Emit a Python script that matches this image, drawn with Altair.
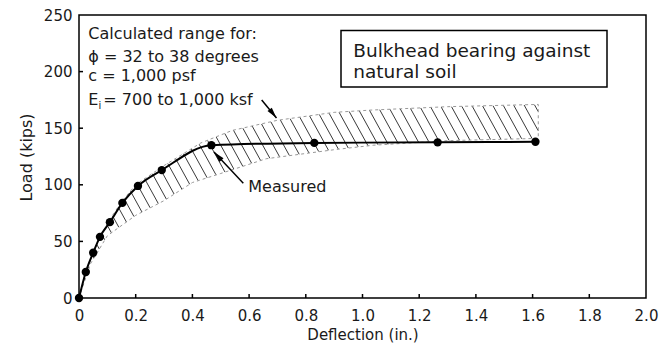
import numpy as np
import pandas as pd
import altair as alt

# Measured load-deflection response of the bulkhead
deflection = [0.0, 0.024, 0.05, 0.074, 0.109, 0.153, 0.208, 0.292, 0.467, 0.83, 1.265, 1.61]
load = [0, 23, 40, 54, 67, 84, 99, 113, 135, 137, 137.5, 138]

# Calculated range: upper and lower bounding curves
upper_defl = [0.0, 0.025, 0.05, 0.1, 0.15, 0.2, 0.3, 0.43, 0.54, 0.7, 0.9, 1.03, 1.3, 1.62]
upper_load = [0, 23, 40, 66, 85, 100, 117, 137, 148, 157, 164, 166, 169, 171]
lower_defl = [0.0, 0.04, 0.1, 0.2, 0.3, 0.4, 0.5, 0.66, 0.9, 1.04, 1.3, 1.62]
lower_load = [0, 30, 55, 73, 86, 102, 110, 123, 131, 135, 139, 141]

# Axis ticks
x_ticks = [0, 0.2, 0.4, 0.6, 0.8, 1.0, 1.2, 1.4, 1.6, 1.8, 2.0]
y_ticks = [0, 50, 100, 150, 200, 250]

W, H = 567, 283
X_MAX, Y_MAX = 2.0, 250
FONT = "DejaVu Sans"
INK = "#1a1a1a"

# Diagonal hatching of the calculated band, built in data units
kx, ky = W / X_MAX, H / Y_MAX
HATCH_STEP = 10.5   # px between hatch lines
HATCH_RUN = 0.55    # horizontal px per vertical px
x_end = upper_defl[-1]
v = np.arange(0, H, 0.25)
segs = []
for c in np.arange(HATCH_STEP / 2, x_end * kx + HATCH_RUN * H, HATCH_STEP):
    xd = (c - HATCH_RUN * v) / kx
    yd = v / ky
    inside = (
        (xd >= 0) & (xd <= x_end)
        & (yd <= np.interp(xd, upper_defl, upper_load))
        & (yd >= np.interp(xd, lower_defl, lower_load))
    )
    idx = np.flatnonzero(inside)
    if idx.size == 0:
        continue
    breaks = np.flatnonzero(np.diff(idx) > 1)
    starts = np.r_[idx[0], idx[breaks + 1]]
    ends = np.r_[idx[breaks], idx[-1]]
    for s, e in zip(starts, ends):
        if e - s < 2:
            continue
        segs.append({"deflection": float(xd[s]), "load": float(yd[s]),
                     "deflection_end": float(xd[e]), "load_end": float(yd[e])})
hatch_df = pd.DataFrame(segs)

# Outline of the band: upper curve forward, lower curve back
outline_df = pd.DataFrame({
    "deflection": upper_defl + lower_defl[::-1],
    "load": upper_load + lower_load[::-1],
})
outline_df["order"] = range(len(outline_df))

measured_df = pd.DataFrame({"deflection": deflection, "load": load})

xs = alt.Scale(domain=[0, X_MAX], nice=False, zero=False)
ys = alt.Scale(domain=[0, Y_MAX], nice=False, zero=False)
x_axis = alt.Axis(
    values=x_ticks, title="Deflection (in.)", grid=False, domain=False,
    ticks=False, tickSize=0, labelPadding=10, labelFlush=False,
    labelExpr="datum.value == 0 ? '0' : format(datum.value, '.1f')",
    labelFontSize=15, labelColor=INK, labelFont=FONT,
    titleFontSize=15, titleFontWeight="normal", titleColor=INK, titleFont=FONT,
    titleY=41, titleBaseline="alphabetic",
)
y_axis = alt.Axis(
    values=y_ticks, title="Load (kips)", grid=False, domain=False,
    ticks=False, tickSize=0, labelPadding=7, labelFlush=False,
    labelFontSize=15, labelColor=INK, labelFont=FONT,
    titleFontSize=16, titleFontWeight="normal", titleColor=INK, titleFont=FONT,
    titleAngle=270, titleX=-48, titleY=142, titleBaseline="alphabetic",
    titleAlign="center",
)
X = alt.X("deflection:Q", scale=xs, axis=x_axis)
Y = alt.Y("load:Q", scale=ys, axis=y_axis)

hatch = alt.Chart(hatch_df).mark_rule(color="#3a3a3a", strokeWidth=1).encode(
    x=X, y=Y, x2="deflection_end:Q", y2="load_end:Q"
)

outline = alt.Chart(outline_df).mark_line(
    color="#999999", strokeWidth=1, strokeDash=[3, 3]
).encode(x=X, y=Y, order="order:Q")

measured_line = alt.Chart(measured_df).mark_line(
    color="black", strokeWidth=2, interpolate="monotone"
).encode(x=X, y=Y)

measured_pts = alt.Chart(measured_df).mark_circle(
    color="black", size=70, opacity=1
).encode(x=X, y=Y)

# Inward tick marks
x_tick_df = pd.DataFrame({"deflection": x_ticks[1:-1]})
y_tick_df = pd.DataFrame({"load": y_ticks[1:-1]})
x_tick_marks = alt.Chart(x_tick_df).mark_rule(color="black", strokeWidth=1.5).encode(
    x=X, y=alt.value(H), y2=alt.value(H - 4)
)
y_tick_marks = alt.Chart(y_tick_df).mark_rule(color="black", strokeWidth=1.5).encode(
    y=Y, x=alt.value(0), x2=alt.value(4)
)

one = pd.DataFrame({"k": [0]})


def label(text, x, y, size=16):
    return alt.Chart(one).mark_text(
        text=text, align="left", baseline="alphabetic", fontSize=size,
        font=FONT, color=INK
    ).encode(x=alt.value(x), y=alt.value(y))


def arrow(x0, y0, x1, y1, angle):
    shaft = alt.Chart(one).mark_rule(color="black", strokeWidth=1.5).encode(
        x=alt.value(x0), y=alt.value(y0), x2=alt.value(x1), y2=alt.value(y1)
    )
    head = alt.Chart(one).mark_point(
        shape="M0,0 L-0.5,2 L0.5,2 Z", filled=True, color="black",
        size=121, angle=angle, opacity=1, strokeWidth=0
    ).encode(x=alt.value(x1), y=alt.value(y1))
    return [shaft, head]


notes = [
    label("Calculated range for:", 9.3, 24),
    label("\u03d5 = 32 to 38 degrees", 9.3, 46.5),
    label("c = 1,000 psf", 9.3, 65.5),
    label("E", 9.3, 90),
    label("i", 19.6, 93.5, size=10),
    label("= 700 to 1,000 ksf", 24.3, 90),
    label("Measured", 169.3, 176.7),
    label("Bulkhead bearing against", 274.3, 41.7, size=18.5),
    label("natural soil", 274.3, 63.3, size=18.5),
]

box = alt.Chart(one).mark_rect(
    fill="white", stroke="black", strokeWidth=1.5
).encode(x=alt.value(262), x2=alt.value(528), y=alt.value(15.5), y2=alt.value(72))

arrows = arrow(182.7, 85, 197.5, 103, 141.5) + arrow(164.3, 168.3, 135, 137, 316.9)

chart = alt.layer(
    hatch, outline, measured_line, measured_pts, x_tick_marks, y_tick_marks,
    box, *notes, *arrows
).properties(
    width=W, height=H,
    autosize=alt.AutoSizeParams(type="none"),
    padding={"left": 79, "top": 15, "right": 23, "bottom": 47},
    background="white",
).configure_view(
    stroke="black", strokeWidth=1.5
)

chart.save("out.html", embed_options={"renderer": "svg", "actions": False})
